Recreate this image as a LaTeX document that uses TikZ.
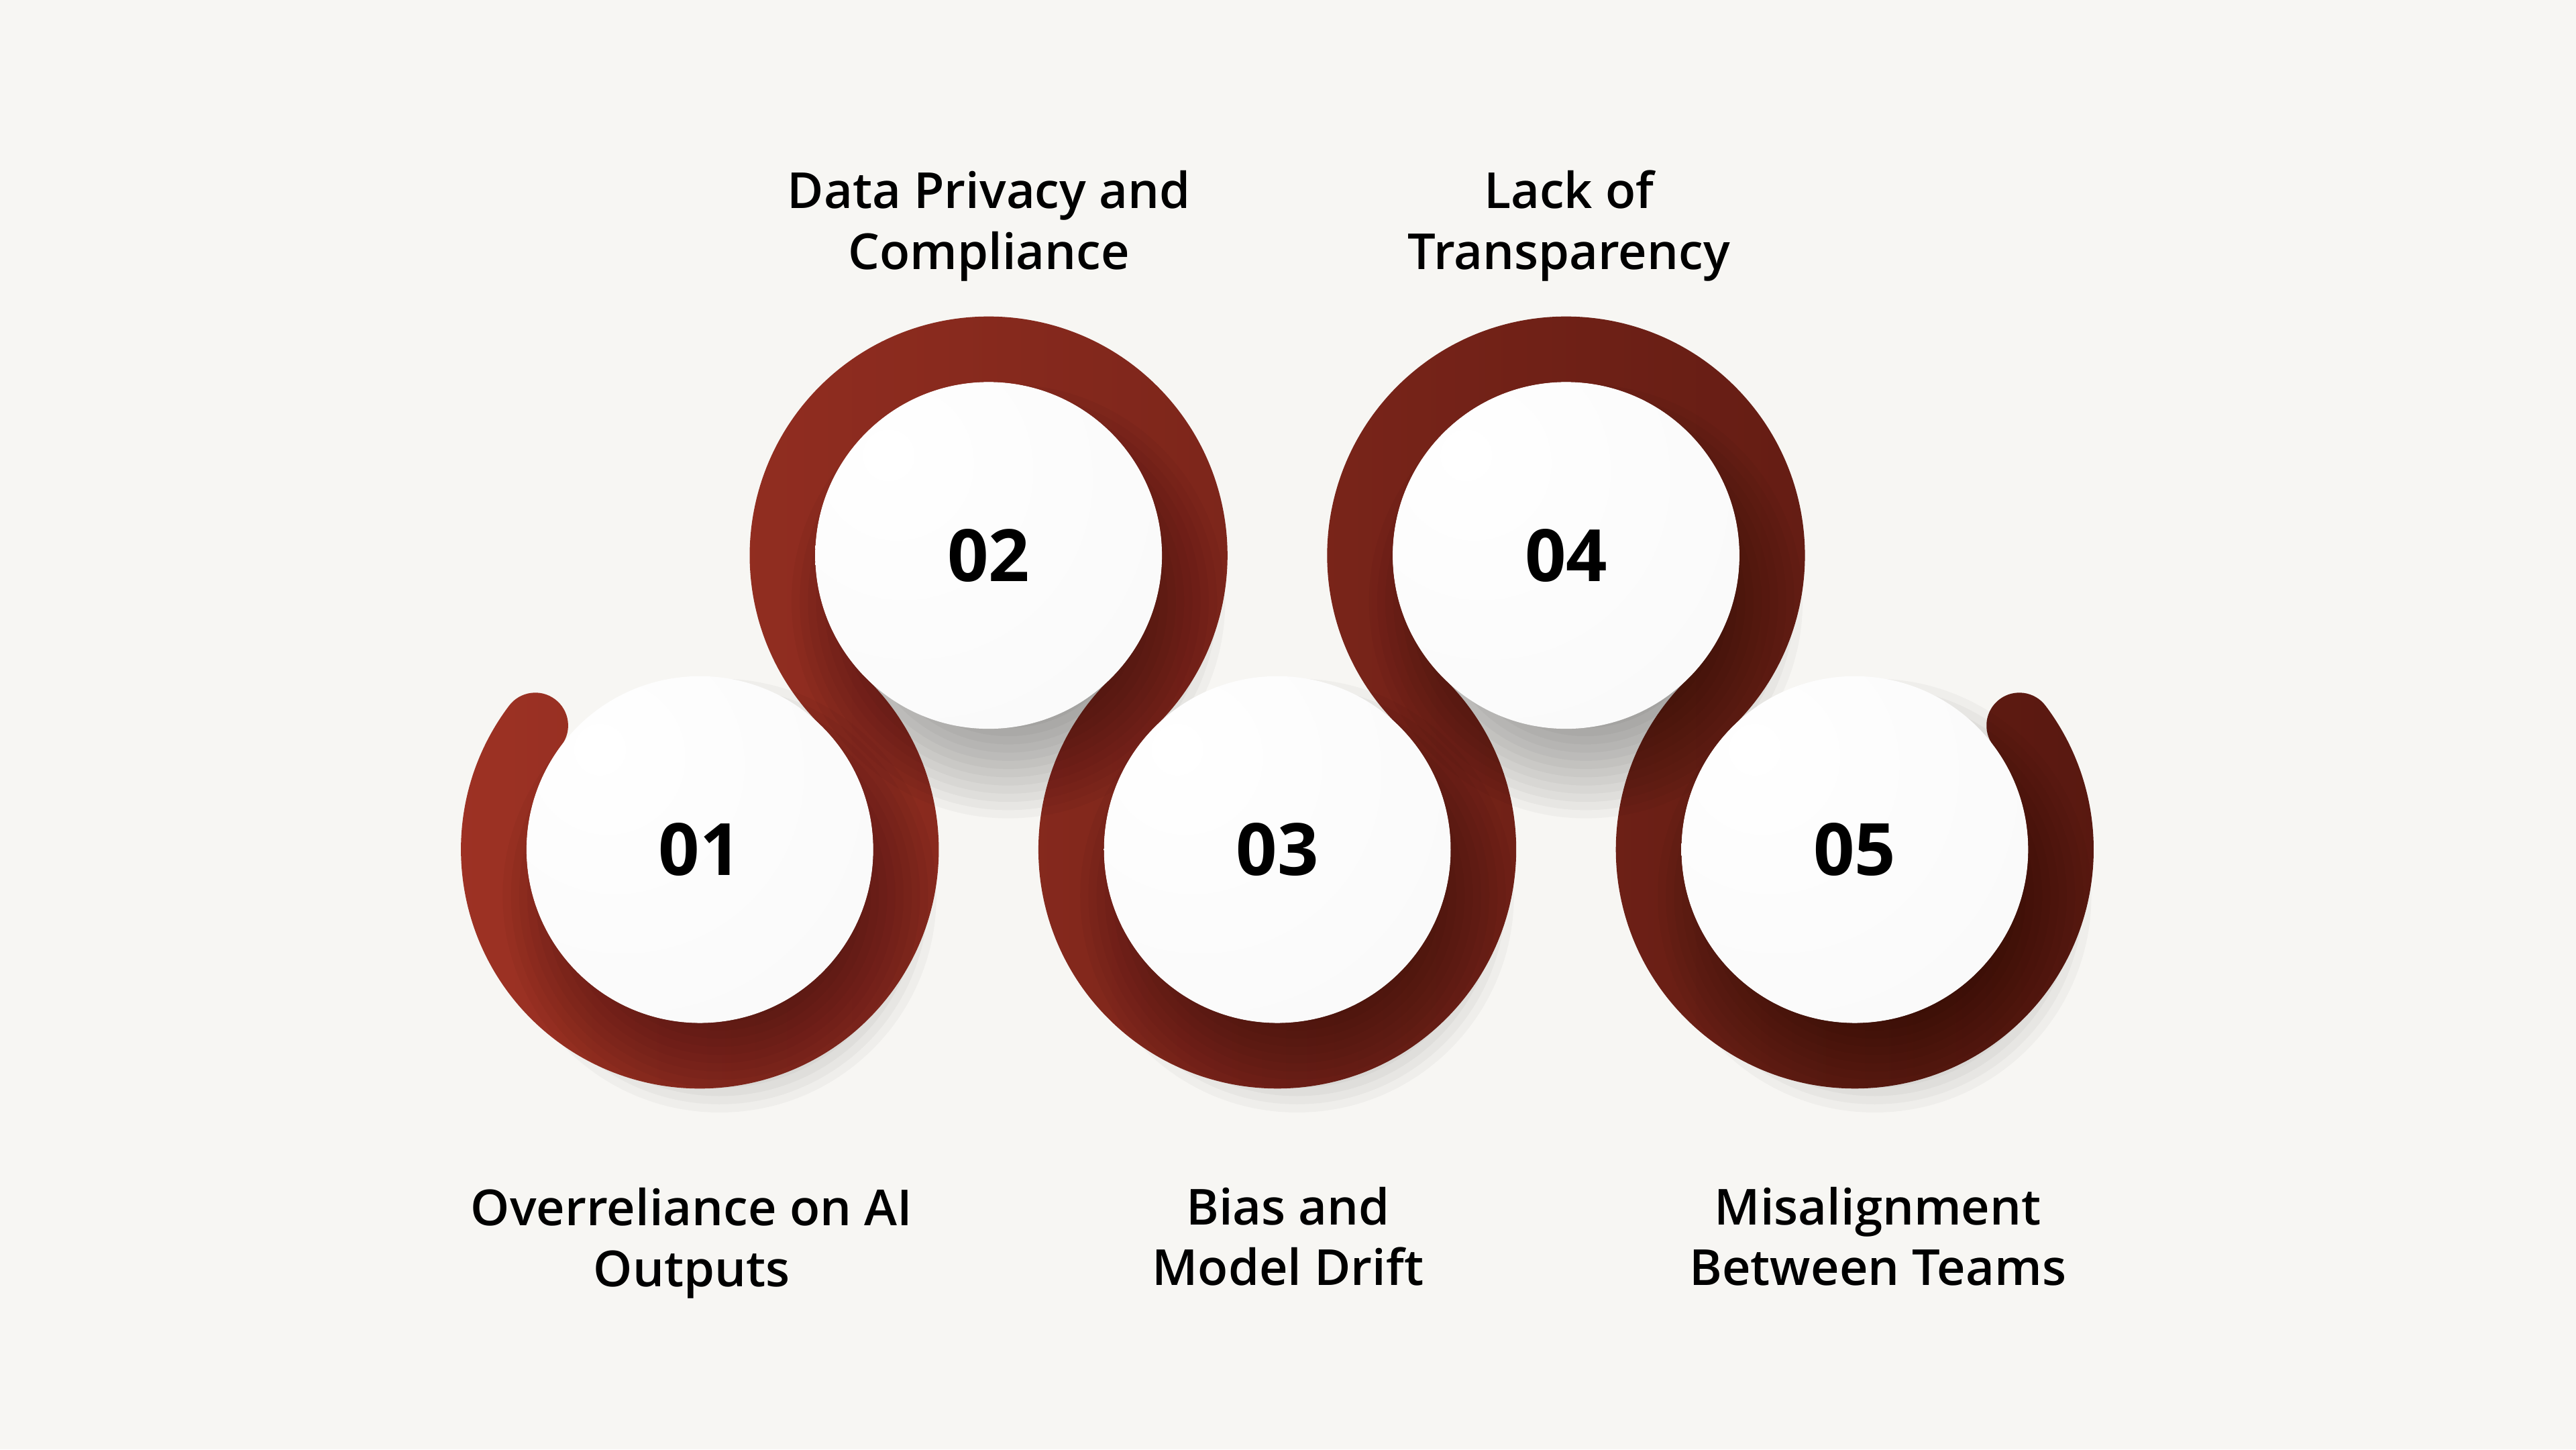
\documentclass[tikz,border=0pt]{standalone}
\usepackage{fontspec}
\IfFontExistsTF{Open Sans SemiBold}
  {\setmainfont{Open Sans}[BoldFont={Open Sans SemiBold}]}
  {\IfFontExistsTF{Open Sans Semibold}
    {\setmainfont{Open Sans}[BoldFont={Open Sans Semibold}]}
    {\setmainfont{Open Sans}}}
\newfontfamily\numfont{Open Sans}
\usepackage{xcolor}
\usepackage{tikz}

\definecolor{paper}{HTML}{F7F6F3}
\definecolor{rustL}{HTML}{9E3224}
\definecolor{rustR}{HTML}{581810}
\definecolor{ink}{HTML}{000000}
\pgfdeclareradialshading{discball}{\pgfpoint{-15bp}{15bp}}{color(0bp)=(white); color(38bp)=(white!98!black); color(55bp)=(white!95!black); color(65bp)=(white!88!black); color(72bp)=(white!81!black); color(100bp)=(white!81!black)}
\newcommand{\ribout}{1.45429}
\newcommand{\ribin}{1.05429}
\newcommand{\ribw}{0.2}

\begin{document}
\begin{tikzpicture}[
    disc/.style={circle, minimum size=2.11cm, inner sep=0pt, shade, shading=discball, text=ink, font=\numfont\bfseries\fontsize{12.5}{15}\selectfont},
    itemtext/.style={align=center, text=ink, font=\bfseries\fontsize{8.6}{10.5}\selectfont},
    ribbon/.style={left color=rustL, right color=rustR}
  ]
    \useasboundingbox[fill=paper] (0,0) rectangle (15.68,8.82);
    \coordinate (c1) at (4.26,3.65);
    \coordinate (c2) at (6.0175,5.44);
    \coordinate (c3) at (7.775,3.65);
    \coordinate (c4) at (9.5325,5.44);
    \coordinate (c5) at (11.29,3.65);

    \shade[ribbon] ([shift={(143:\ribout)}]c1)
      arc[start angle=143, end angle=405.525, radius=\ribout]
      arc[start angle=225.525, end angle=-45.525, radius=\ribin]
      arc[start angle=134.475, end angle=405.525, radius=\ribout]
      arc[start angle=225.525, end angle=-45.525, radius=\ribin]
      arc[start angle=134.475, end angle=397, radius=\ribout]
      arc[start angle=37, end angle=217, radius=\ribw]
      arc[start angle=397, end angle=134.475, radius=\ribin]
      arc[start angle=-45.525, end angle=225.525, radius=\ribout]
      arc[start angle=405.525, end angle=134.475, radius=\ribin]
      arc[start angle=-45.525, end angle=225.525, radius=\ribout]
      arc[start angle=405.525, end angle=143, radius=\ribin]
      arc[start angle=-37, end angle=143, radius=\ribw] -- cycle;

    \foreach \i in {1,...,5}
      \foreach \k in {0,...,11}
        \fill[black,opacity=.032] ([shift={(.12,-.28)}]c\i) circle ({1.32-.05*\k});

    \node[disc] (d1) at (c1) {01};
    \node[disc] (d2) at (c2) {02};
    \node[disc] (d3) at (c3) {03};
    \node[disc] (d4) at (c4) {04};
    \node[disc] (d5) at (c5) {05};

    \node[itemtext] (t1) at (4.21,1.255) {Overreliance on AI\\Outputs};
    \node[itemtext] (t2) at (6.02,7.445) {Data Privacy and\\Compliance};
    \node[itemtext] (t3) at (7.84,1.295) {Bias and\\Model Drift};
    \node[itemtext] (t4) at (9.55,7.445) {Lack of\\Transparency};
    \node[itemtext] (t5) at (11.43,1.295) {Misalignment\\Between Teams};
\end{tikzpicture}
\end{document}
